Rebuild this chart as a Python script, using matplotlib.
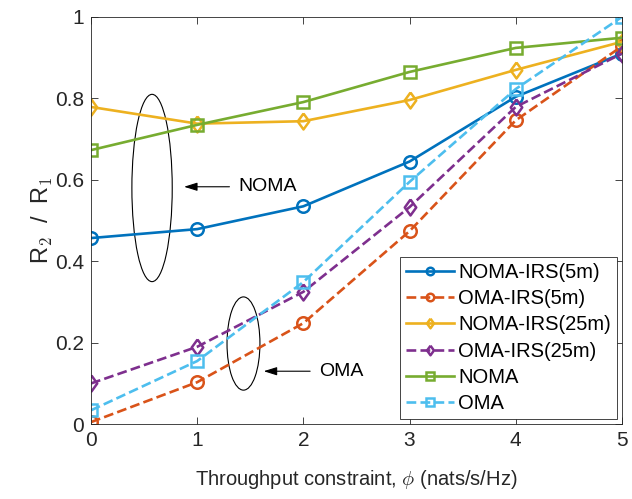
import matplotlib
matplotlib.use("Agg")
import matplotlib.pyplot as plt
from matplotlib.patches import Ellipse

plt.rcParams['font.family'] = ['Liberation Sans', 'DejaVu Sans']
plt.rcParams['mathtext.fontset'] = 'cm'

phi = [0, 1, 2, 3, 4, 5]
noma_irs_5m = [0.457, 0.479, 0.535, 0.645, 0.804, 0.910]
oma_irs_5m = [0.005, 0.103, 0.248, 0.474, 0.746, 0.928]
noma_irs_25m = [0.779, 0.738, 0.744, 0.796, 0.870, 0.939]
oma_irs_25m = [0.100, 0.190, 0.325, 0.533, 0.779, 0.910]
noma = [0.673, 0.735, 0.791, 0.865, 0.924, 0.949]
oma = [0.034, 0.155, 0.349, 0.595, 0.823, 1.000]

diamond = [(0, 1), (0.72, 0), (0, -1), (-0.72, 0), (0, 1)]

series = [
    ("NOMA-IRS(5m)", noma_irs_5m, '#0072BD', '-', 'o', 9),
    ("OMA-IRS(5m)", oma_irs_5m, '#D95319', '--', 'o', 9),
    ("NOMA-IRS(25m)", noma_irs_25m, '#EDB120', '-', diamond, 11.5),
    ("OMA-IRS(25m)", oma_irs_25m, '#7E2F8E', '--', diamond, 11.5),
    ("NOMA", noma, '#77AC30', '-', 's', 8.5),
    ("OMA", oma, '#4DBEEE', '--', 's', 8.5),
]

fig = plt.figure(figsize=(6.32, 4.99), dpi=100)
ax = fig.add_axes([0.144, 0.150, 0.840, 0.816])

for label, vals, col, ls, mk, ms in series:
    ax.plot(phi, vals, color=col, linestyle=ls, marker=mk, markersize=ms,
            markerfacecolor='none', markeredgewidth=1.8, linewidth=1.9, label=label)

ax.set_xlim(0, 5)
ax.set_ylim(0, 1)
ax.set_xticks([0, 1, 2, 3, 4, 5])
ax.set_yticks([0, 0.2, 0.4, 0.6, 0.8, 1])
ax.set_yticklabels(['0', '0.2', '0.4', '0.6', '0.8', '1'])
ax.tick_params(direction='in', top=True, right=True, labelsize=15, length=5,
               width=0.6, colors='#262626', pad=5)
for s in ax.spines.values():
    s.set_linewidth(0.6)
    s.set_color('#262626')

ax.set_xlabel(r'Throughput constraint, $\phi$ (nats/s/Hz)', fontsize=14.5,
              color='#262626', labelpad=13)
ax.set_ylabel(r'R$_{\mathsf{2}}$  /  R$_{\mathsf{1}}$', fontsize=17, color='#262626', labelpad=0)

# annotations
ax.add_patch(Ellipse((0.575, 0.58), 0.38, 0.46, fill=False, edgecolor='black', linewidth=0.8))
ax.add_patch(Ellipse((1.436, 0.198), 0.31, 0.229, fill=False, edgecolor='black', linewidth=0.8))
ax.annotate('', xy=(0.85, 0.583), xytext=(1.33, 0.583),
            arrowprops=dict(arrowstyle='-|>,head_length=0.8,head_width=0.25', color='black', lw=0.8))
ax.text(1.39, 0.583, 'NOMA', fontsize=14, va='center', ha='left')
ax.annotate('', xy=(1.60, 0.13), xytext=(2.09, 0.13),
            arrowprops=dict(arrowstyle='-|>,head_length=0.8,head_width=0.25', color='black', lw=0.8))
ax.text(2.15, 0.13, 'OMA', fontsize=14, va='center', ha='left')

leg = ax.legend(loc='lower right', fontsize=14.5, frameon=True, fancybox=False,
                edgecolor='#262626', framealpha=1, borderaxespad=0.25,
                handlelength=2.4, handletextpad=0.2, labelspacing=0.36, borderpad=0.3,
                markerscale=0.6)
leg.get_frame().set_linewidth(0.6)

fig.savefig('out.png', dpi=100)
